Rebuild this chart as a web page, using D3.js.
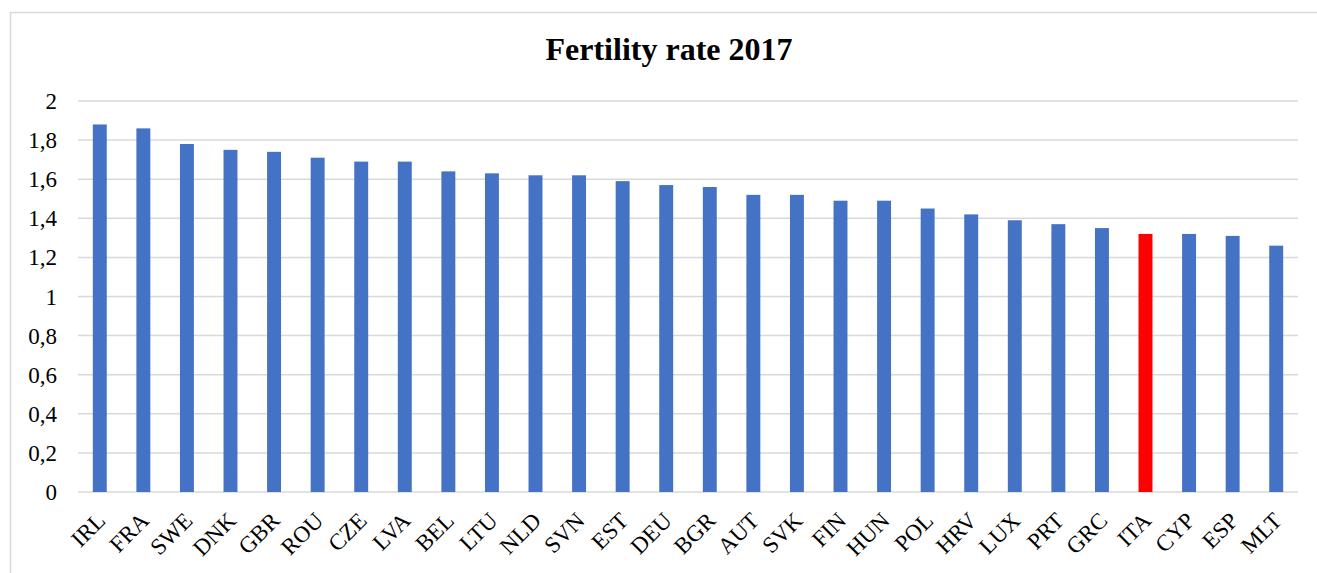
<!DOCTYPE html>
<html>
<head>
<meta charset="utf-8">
<script src="https://cdn.jsdelivr.net/npm/d3@7"></script>
<style>
  html, body { margin: 0; padding: 0; background: #fff; }
  svg { display: block; }
</style>
</head>
<body>
<svg id="chart" width="1317" height="573"></svg>
<script>
// Total fertility rate by country, 2017
const countries = ["IRL","FRA","SWE","DNK","GBR","ROU","CZE","LVA","BEL","LTU","NLD","SVN","EST","DEU","BGR","AUT","SVK","FIN","HUN","POL","HRV","LUX","PRT","GRC","ITA","CYP","ESP","MLT"];
const fertility = [1.88,1.86,1.78,1.75,1.74,1.71,1.69,1.69,1.64,1.63,1.62,1.62,1.59,1.57,1.56,1.52,1.52,1.49,1.49,1.45,1.42,1.39,1.37,1.35,1.32,1.32,1.31,1.26];
const yTicks = [0,0.2,0.4,0.6,0.8,1,1.2,1.4,1.6,1.8,2];
const highlight = "ITA";

const svg = d3.select("#chart");
const font = "'Liberation Serif', 'Times New Roman', serif";

// chart frame
svg.append("rect")
  .attr("x", 10.5).attr("y", 12.5)
  .attr("width", 1330).attr("height", 600)
  .attr("fill", "#fff").attr("stroke", "#d9d9d9").attr("stroke-width", 1.5);

const plotLeft = 78, plotRight = 1298, plotTop = 101, plotBottom = 492;

const x = d3.scaleBand().domain(countries).range([plotLeft, plotRight])
  .paddingInner(0.68).paddingOuter(0.34);
const y = d3.scaleLinear().domain([0, 2]).range([plotBottom, plotTop]);

// horizontal gridlines
svg.append("g").selectAll("line").data(yTicks).join("line")
  .attr("x1", plotLeft).attr("x2", plotRight)
  .attr("y1", d => y(d)).attr("y2", d => y(d))
  .attr("stroke", "#d9d9d9").attr("stroke-width", 1.5);

// y axis labels
const yAxis = d3.axisLeft(y).tickValues(yTicks).tickSize(0).tickPadding(0)
  .tickFormat(d => String(d).replace(".", ","));
const gy = svg.append("g").attr("transform", `translate(${plotLeft - 21},0)`).call(yAxis);
gy.select(".domain").remove();
gy.selectAll("text").attr("font-family", font).attr("font-size", 23).attr("fill", "#000")
  .attr("dy", "0.33em");

// bars
svg.append("g").selectAll("rect").data(countries).join("rect")
  .attr("x", d => x(d))
  .attr("width", x.bandwidth())
  .attr("y", (d, i) => y(fertility[i]))
  .attr("height", (d, i) => y(0) - y(fertility[i]))
  .attr("fill", d => d === highlight ? "#ff0000" : "#4472c4");

// x axis labels, rotated
const xAxis = d3.axisBottom(x).tickSize(0).tickPadding(0);
const gx = svg.append("g").attr("transform", `translate(0,${plotBottom})`).call(xAxis);
gx.select(".domain").remove();
gx.selectAll("text")
  .attr("font-family", font).attr("font-size", 23).attr("fill", "#000")
  .attr("text-anchor", "end")
  .attr("dy", 0)
  .attr("transform", "translate(7,30) rotate(-45)");

// title
svg.append("text")
  .attr("x", 669).attr("y", 60)
  .attr("text-anchor", "middle")
  .attr("font-family", font).attr("font-weight", "bold").attr("font-size", 32)
  .attr("fill", "#000")
  .text("Fertility rate 2017");
</script>
</body>
</html>
